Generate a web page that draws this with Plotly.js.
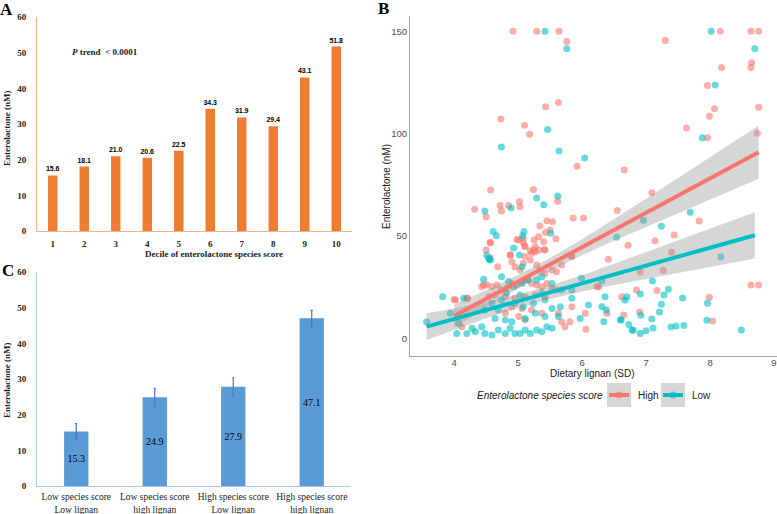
<!DOCTYPE html>
<html>
<head>
<meta charset="utf-8">
<script src="https://cdn.plot.ly/plotly-3.0.1.min.js"></script>
<style>html,body{margin:0;padding:0;background:#fff}#chart{width:777px;height:514px}</style>
</head>
<body>
<div id="chart"></div>
<script>
// ---------- Panel A data ----------
const decileCats = ["1","2","3","4","5","6","7","8","9","10"];
const decileValues = [15.6, 18.1, 21.0, 20.6, 22.5, 34.3, 31.9, 29.4, 43.1, 51.8];

// ---------- Panel C data ----------
const groupCats = ["Low species score<br>Low lignan", "Low species score<br>high lignan", "High species score<br>Low lignan", "High species score<br>high lignan"];
const groupValues = [15.3, 24.9, 27.9, 47.1];
const groupErrors = [2.2, 2.5, 2.5, 2.2];

// ---------- Panel B data (High species score) ----------
const highX = [4.92,5.29,5.64,5.76,7.30,8.16,8.64,8.76,8.64,8.65,8.18,7.96,8.07,7.99,8.76,8.74,7.63,7.96,5.63,5.43,4.73,5.10,5.18,5.92,6.66,5.24,4.57,4.32,4.72,4.85,4.74,5.02,5.03,5.62,5.86,6.02,6.55,7.09,4.50,4.50,4.57,4.98,5.08,5.10,5.32,5.34,5.45,5.54,5.50,5.43,5.59,5.25,5.40,5.27,5.41,5.19,4.88,6.72,7.14,7.44,7.40,7.83,6.41,5.83,
  4.56,4.68,4.875,4.90,4.95,5.03,5.08,5.11,5.19,5.21,5.27,5.32,5.42,5.29,5.34,5.42,5.53,5.60,5.68,5.84,4.43,4.51,4.59,4.67,4.74,4.82,4.90,4.98,5.06,5.14,5.21,5.29,5.37,5.45,5.53,5.60,4.54,4.64,4.80,4.95,5.11,5.27,5.42,4.02,4.20,4.90,5.06,5.21,5.01,5.11,4.80,5.37,5.63,5.68,5.73,5.81,5.84,6.05,6.06,6.23,6.62,6.65,6.39,
  4.00,4.21,4.12,4.46,6.26,8.64,8.76,6.91,7.27,6.85,7.17,7.99,6.90,8.04,5.11,5.24,5.08,5.01,4.56];
const highY = [150,150,150,145,145.5,150,150,150,132.4,134.7,132.4,123.6,112.2,108.6,112.9,100.2,102.8,98,115.3,113.2,107.2,104.2,99.7,84.1,82.3,72.8,72.5,63.1,65,65,62.3,66.8,64.4,67,58.8,58.8,62.5,71.2,59.4,43.2,46.9,48.4,46.9,45.3,49.7,54.9,57.5,57,53,51.8,48.7,48.1,47.3,44.8,43.5,42.9,40.8,45.6,47.8,50.5,42.1,57.4,38.7,40.3,
  39.6,35.1,40.8,37.5,35.1,33.4,36.7,40.0,38.3,41.6,42.4,43.2,43.2,35.9,33.4,31.8,33.4,32.6,35.9,40.0,25.3,26.1,25.3,26.1,23.7,24.5,26.9,26.1,27.8,28.6,26.9,26.1,25.3,26.9,24.5,23.7,20.4,21.2,20.4,19.6,20.4,21.2,20.4,18.8,19.6,15.5,14.7,13.9,10.7,9.0,12.3,12.3,12.3,8.2,5.8,8.2,15.5,12.3,4.5,25.3,20.4,11.5,12.3,
  19.1,19.6,5.8,26.1,25.3,26.1,26.1,32.5,33.3,23.7,23.4,20.1,12.9,8.5,44.8,43.2,48.9,48.1,46.8];

// ---------- Panel B data (Low species score) ----------
const lowX = [5.42,5.76,8.02,8.70,8.08,7.88,5.46,4.74,5.64,6.04,5.29,5.62,5.40,4.89,4.48,4.61,4.66,5.09,5.07,5.51,4.93,5.02,6.96,7.24,7.69,6.54,8.17,4.51,4.56,
  4.56,4.46,4.74,4.85,4.93,5.06,5.06,5.16,5.29,5.37,5.53,5.68,5.84,5.99,3.82,3.94,4.15,3.57,4.07,4.28,4.43,4.04,4.20,4.33,4.48,4.59,4.69,4.80,4.875,4.95,5.03,5.11,5.19,5.29,5.37,5.45,5.53,4.64,4.80,4.90,5.11,5.27,5.42,5.53,5.66,5.84,5.97,6.10,6.31,6.36,6.67,6.61,6.78,6.34,5.63,4.69,4.48,4.59,4.74,4.95,5.08,5.24,5.42,4.82,5.03,5.37,4.54,
  6.31,7.10,7.35,7.28,6.91,6.70,7.57,7.96,7.24,7.21,6.38,6.92,7.09,6.60,6.73,6.80,6.91,7.00,7.11,7.39,7.47,7.59,7.95,8.49];
const lowY = [150,141.5,150,141.5,123.8,98,102.1,93.5,91.6,88.1,68.6,69.6,65.3,63.7,62.3,52.2,50.2,52.2,50.2,51.4,44.2,40.8,57.7,54.8,61.6,49.5,39.9,40.6,38.7,
  38.3,28.9,30.2,27.8,25.3,35.1,26.9,28.6,28.6,30.2,26.9,23.7,23.7,29.4,20.4,12.3,19.6,8.2,7.4,5.0,5.8,2.5,2.5,3.3,2.5,1.7,4.2,2.5,5.0,2.5,2.5,4.2,2.5,4.2,3.3,5.8,5.0,9.8,9.0,8.2,9.8,12.3,10.7,14.7,15.5,19.6,9.8,16.4,15.5,20.4,18.8,9.0,4.2,8.2,10.7,13.9,13.9,17.2,18.8,17.2,15.5,17.2,18.8,22.1,21.2,22.1,39.1,
  28.1,28.1,24.0,21.2,21.7,20.4,19.8,17.2,16.7,12.9,13.9,11.3,9.5,9.2,6.8,4.0,2.4,3.8,5.1,5.6,6.1,6.4,8.9,4.2];

// ---------- Panel B fitted lines and 95% bands ----------
const highFitX = [4.0, 8.76];
const highFitY = [11.0, 91.0];
const highBandX = [4.0, 4.5, 5.0, 5.5, 6.0, 6.5, 7.0, 7.5, 8.0, 8.76];
const highBandLo = [5.4, 15.2, 24.6, 33.1, 40.7, 47.7, 54.5, 61.2, 67.9, 78.0];
const highBandHi = [16.6, 23.6, 31.0, 39.3, 48.5, 58.3, 68.3, 78.4, 88.5, 104.0];

const lowFitX = [3.57, 8.70];
const lowFitY = [5.8, 50.4];
const lowBandX = [3.57, 4.0, 4.5, 5.0, 5.5, 6.0, 6.5, 7.0, 7.5, 8.0, 8.70];
const lowBandLo = [-0.7, 4.3, 9.9, 14.9, 19.3, 22.9, 26.1, 29.0, 32.0, 34.8, 39.1];
const lowBandHi = [12.3, 14.7, 17.9, 21.5, 25.9, 30.9, 36.5, 42.2, 48.0, 53.8, 61.7];

// ---------- helpers ----------
const W = 777, H = 514;
const px = v => v / W;
const py = v => 1 - v / H;
const SERIF = "Liberation Serif, Times New Roman, serif";
const SANS = "Liberation Sans, Arial, sans-serif";
const RED = "#F8766D", TEAL = "#00BFC4";

function note(text, x, y, font, extra) {
  return Object.assign({text: text, x: px(x), y: py(y), xref: "paper", yref: "paper",
    xanchor: "center", yanchor: "middle", showarrow: false, font: font}, extra || {});
}

const traces = [
  {
    type: "bar", x: decileCats, y: decileValues, xaxis: "x", yaxis: "y",
    marker: {color: "#ED7D31"}, width: 0.3,
    text: decileValues.map(v => v.toFixed(1)), textposition: "outside",
    textfont: {family: SANS, size: 7, color: "#000", weight: "bold"},
    constraintext: "none", cliponaxis: false, hoverinfo: "skip"
  },
  {
    type: "bar", x: groupCats, y: groupValues, xaxis: "x2", yaxis: "y2",
    marker: {color: "#5B9BD5"}, width: 0.31,
    error_y: {type: "data", array: groupErrors, visible: true, color: "#4472C4", thickness: 1.2, width: 1},
    text: groupValues.map(v => v.toFixed(1)), textposition: "inside", insidetextanchor: "middle",
    insidetextfont: {family: SERIF, size: 10, color: "#000"},
    constraintext: "none", hoverinfo: "skip"
  },
  {
    type: "scatter", mode: "markers", x: highX, y: highY, xaxis: "x3", yaxis: "y3",
    marker: {color: RED, size: 7, opacity: 0.6, line: {width: 0}}, hoverinfo: "skip"
  },
  {
    type: "scatter", mode: "markers", x: lowX, y: lowY, xaxis: "x3", yaxis: "y3",
    marker: {color: TEAL, size: 7, opacity: 0.6, line: {width: 0}}, hoverinfo: "skip"
  },
  {
    type: "scatter", mode: "lines", xaxis: "x3", yaxis: "y3",
    x: highBandX.concat(highBandX.slice().reverse()),
    y: highBandHi.concat(highBandLo.slice().reverse()),
    fill: "toself", fillcolor: "rgba(153,153,153,0.4)", line: {width: 0}, hoverinfo: "skip"
  },
  {
    type: "scatter", mode: "lines", xaxis: "x3", yaxis: "y3",
    x: lowBandX.concat(lowBandX.slice().reverse()),
    y: lowBandHi.concat(lowBandLo.slice().reverse()),
    fill: "toself", fillcolor: "rgba(153,153,153,0.4)", line: {width: 0}, hoverinfo: "skip"
  },
  {
    type: "scatter", mode: "lines", x: highFitX, y: highFitY, xaxis: "x3", yaxis: "y3",
    line: {color: RED, width: 4}, hoverinfo: "skip"
  },
  {
    type: "scatter", mode: "lines", x: lowFitX, y: lowFitY, xaxis: "x3", yaxis: "y3",
    line: {color: TEAL, width: 4}, hoverinfo: "skip"
  }
];

const boldSerifTick = {family: SERIF, size: 9, color: "#222", weight: "bold"};
const letterFont = {family: SERIF, size: 17, color: "#000"};
const serifTitle = {family: SERIF, size: 9, color: "#222"};
const sansTitle = {family: SANS, size: 10, color: "#1a1a1a"};

const layout = {
  width: W, height: H,
  margin: {l: 0, r: 0, t: 0, b: 0},
  paper_bgcolor: "#fff", plot_bgcolor: "rgba(0,0,0,0)",
  showlegend: false,
  font: {family: SERIF},
  xaxis: {
    domain: [px(37), px(352)], anchor: "y", type: "category",
    showline: true, linecolor: "#F5B48A", linewidth: 1, showgrid: false, zeroline: false,
    ticks: "", tickfont: boldSerifTick, ticklabelstandoff: 4
  },
  yaxis: {
    domain: [py(231), py(17.3)], anchor: "x", range: [0, 60], dtick: 10,
    showline: true, linecolor: "#F5B48A", linewidth: 1, showgrid: false, zeroline: false,
    ticks: "", tickfont: boldSerifTick, ticklabelstandoff: 8
  },
  xaxis2: {
    domain: [px(37), px(351)], anchor: "y2", type: "category",
    showline: true, linecolor: "#A9C8EA", linewidth: 1, showgrid: false, zeroline: false,
    ticks: "", tickfont: {family: SERIF, size: 9.5, color: "#222"}, ticklabelstandoff: 2
  },
  yaxis2: {
    domain: [py(486), py(272.3)], anchor: "x2", range: [0, 60], dtick: 10,
    showline: true, linecolor: "#A9C8EA", linewidth: 1, showgrid: false, zeroline: false,
    ticks: "", tickfont: boldSerifTick, ticklabelstandoff: 8
  },
  xaxis3: {
    domain: [px(410), 1], anchor: "y3", range: [3.31, 9.047], tickvals: [4,5,6,7,8,9],
    showline: true, linecolor: "#A6A6A6", linewidth: 1, showgrid: false, zeroline: false,
    ticks: "", ticklabelstandoff: -2,
    tickfont: {family: SANS, size: 9.5, color: "#4D4D4D"}
  },
  yaxis3: {
    domain: [py(355.5), py(16)], anchor: "x3", range: [-8.3, 157.5], tickvals: [0,50,100,150],
    showline: true, linecolor: "#A6A6A6", linewidth: 1, showgrid: false, zeroline: false,
    ticks: "", ticklabelstandoff: 0,
    tickfont: {family: SANS, size: 9.5, color: "#4D4D4D"}
  },
  annotations: [
    note("<b>A</b>", 6.5, 9.5, letterFont),
    note("<b>B</b>", 383, 8.5, letterFont),
    note("<b>C</b>", 8, 270, letterFont),
    note("<b>Enterolactone (nM)</b>", 7, 128, serifTitle, {textangle: -90}),
    note("<b>Decile of enterolactone species score</b>", 214, 254, serifTitle),
    note("<b><i>P</i> trend  &lt; 0.0001</b>", 105, 52, serifTitle),
    note("<b>Enterolactone (nM)</b>", 7, 380, serifTitle, {textangle: -90}),
    note("Enterolactone (nM)", 386, 187, sansTitle, {textangle: -90}),
    note("Dietary lignan (SD)", 592, 373, sansTitle),
    note("<i>Enterolactone species score</i>", 540, 395, sansTitle),
    note("High", 636, 395, sansTitle, {xanchor: "left"}),
    note("Low", 690, 395, sansTitle, {xanchor: "left"})
  ],
  shapes: [
    {type: "rect", xref: "paper", yref: "paper", x0: px(607), x1: px(631), y0: py(407), y1: py(383), fillcolor: "rgba(153,153,153,0.4)", line: {width: 0}},
    {type: "line", xref: "paper", yref: "paper", x0: px(609), x1: px(629), y0: py(395), y1: py(395), line: {color: RED, width: 4}},
    {type: "circle", xref: "paper", yref: "paper", x0: px(615.5), x1: px(622.5), y0: py(398.5), y1: py(391.5), fillcolor: "rgba(248,118,109,0.6)", line: {width: 0}},
    {type: "rect", xref: "paper", yref: "paper", x0: px(661), x1: px(685), y0: py(407), y1: py(383), fillcolor: "rgba(153,153,153,0.4)", line: {width: 0}},
    {type: "line", xref: "paper", yref: "paper", x0: px(663), x1: px(683), y0: py(395), y1: py(395), line: {color: TEAL, width: 4}},
    {type: "circle", xref: "paper", yref: "paper", x0: px(669.5), x1: px(676.5), y0: py(398.5), y1: py(391.5), fillcolor: "rgba(0,191,196,0.6)", line: {width: 0}}
  ]
};

Plotly.newPlot("chart", traces, layout, {displayModeBar: false, staticPlot: true});
</script>
</body>
</html>
